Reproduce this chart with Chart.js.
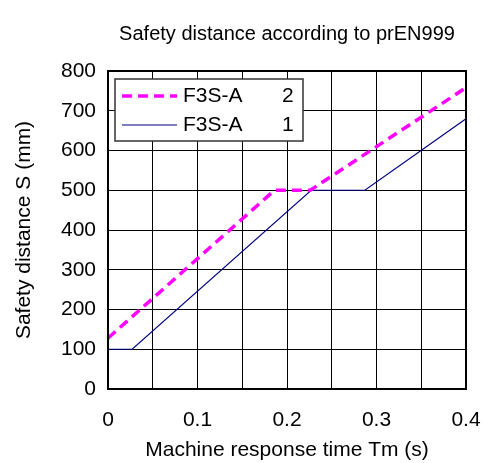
<!DOCTYPE html>
<html>
<head>
<meta charset="utf-8">
<script src="https://cdn.jsdelivr.net/npm/chart.js@4.4.1/dist/chart.umd.min.js"></script>
<style>
  html, body { margin: 0; padding: 0; background: #fff; }
  #wrap { width: 485px; height: 463px; }
</style>
</head>
<body>
<div id="wrap"><canvas id="c" width="485" height="463"></canvas></div>
<script>
// ---- data ----
const chartTitle = 'Safety distance according to prEN999';
const xAxisTitle = 'Machine response time Tm (s)';
const yAxisTitle = 'Safety distance S (mm)';
const seriesNames = ['F3S-A', 'F3S-A'];
const seriesTags = ['2', '1'];
const series2X = [0, 0.186, 0.226, 0.4];
const series2Y = [128, 500, 500, 758];
const series1X = [0, 0.027, 0.227, 0.287, 0.4];
const series1Y = [100, 100, 500, 500, 680];
const xTickValues = [0, 0.1, 0.2, 0.3, 0.4];
const xTickLabels = ['0', '0.1', '0.2', '0.3', '0.4'];

const FONT = "'Liberation Sans', Arial, sans-serif";
const toPts = (xs, ys) => xs.map((x, i) => ({ x: x, y: ys[i] }));

const frameAndLegend = {
  id: 'frameAndLegend',
  afterDraw(chart) {
    const ctx = chart.ctx;
    const a = chart.chartArea;
    ctx.save();
    ctx.strokeStyle = '#000';
    ctx.lineWidth = 2;
    ctx.strokeRect(a.left, a.top, a.right - a.left, a.bottom - a.top);
    // legend box
    const bx = 115, by = 79, bw = 188, bh = 62;
    ctx.fillStyle = '#fff';
    ctx.fillRect(bx, by, bw, bh);
    ctx.strokeStyle = '#333';
    ctx.lineWidth = 1.5;
    ctx.strokeRect(bx, by, bw, bh);
    const rows = [96, 125];
    chart.data.datasets.forEach((ds, i) => {
      const y = rows[i];
      ctx.beginPath();
      ctx.strokeStyle = ds.borderColor;
      ctx.lineWidth = ds.borderWidth;
      ctx.setLineDash(ds.borderDash || []);
      ctx.moveTo(122, y);
      ctx.lineTo(177, y);
      ctx.stroke();
      ctx.setLineDash([]);
      ctx.fillStyle = '#000';
      ctx.font = '21px ' + FONT;
      ctx.textBaseline = 'middle';
      ctx.textAlign = 'left';
      ctx.fillText(seriesNames[i], 183, y);
      ctx.fillText(seriesTags[i], 282, y);
    });
    ctx.restore();
  }
};

new Chart(document.getElementById('c'), {
  type: 'line',
  data: {
    datasets: [
      {
        label: seriesNames[0] + '  ' + seriesTags[0],
        data: toPts(series2X, series2Y),
        borderColor: '#FF00FF',
        borderWidth: 3.5,
        borderDash: [10, 6],
        pointRadius: 0,
        tension: 0,
        fill: false
      },
      {
        label: seriesNames[1] + '  ' + seriesTags[1],
        data: toPts(series1X, series1Y),
        borderColor: '#000080',
        borderWidth: 1.2,
        pointRadius: 0,
        tension: 0,
        fill: false
      }
    ]
  },
  options: {
    responsive: false,
    animation: false,
    devicePixelRatio: 1,
    layout: { padding: { left: 0, right: 19, top: 0, bottom: 0 } },
    plugins: {
      legend: { display: false },
      tooltip: { enabled: false },
      title: {
        display: true,
        text: chartTitle,
        fullSize: false,
        color: '#000',
        font: { family: FONT, size: 20, weight: 'normal', lineHeight: 1.2 },
        padding: { top: 22, bottom: 25 }
      }
    },
    scales: {
      x: {
        type: 'linear',
        min: 0,
        max: 0.4,
        afterFit: s => { s.height = 74; s.paddingLeft = 0; s.paddingRight = 0; },
        afterBuildTicks: s => {
          const t = [];
          for (let i = 0; i <= 8; i++) t.push({ value: i * 0.05 });
          s.ticks = t;
        },
        grid: { color: '#000', lineWidth: 1, drawTicks: false },
        border: { display: false },
        ticks: {
          color: '#000',
          padding: 19,
          maxRotation: 0,
          autoSkip: false,
          font: { family: FONT, size: 21 },
          callback: function (v) {
            const k = xTickValues.findIndex(t => Math.abs(t - v) < 1e-6);
            return k >= 0 ? xTickLabels[k] : '';
          }
        },
        title: {
          display: true,
          text: xAxisTitle,
          color: '#000',
          font: { family: FONT, size: 21, lineHeight: 1.2 },
          padding: { top: 0, bottom: 0 }
        }
      },
      y: {
        min: 0,
        max: 800,
        afterFit: s => { s.width = 108; s.paddingTop = 0; s.paddingBottom = 0; },
        grid: { color: '#000', lineWidth: 1, drawTicks: false },
        border: { display: false },
        ticks: {
          stepSize: 100,
          color: '#000',
          padding: 12,
          font: { family: FONT, size: 21 }
        },
        title: {
          display: true,
          text: yAxisTitle,
          color: '#000',
          font: { family: FONT, size: 21, lineHeight: 1.2 },
          padding: { top: 12, bottom: 0 }
        }
      }
    }
  },
  plugins: [frameAndLegend]
});
</script>
</body>
</html>
